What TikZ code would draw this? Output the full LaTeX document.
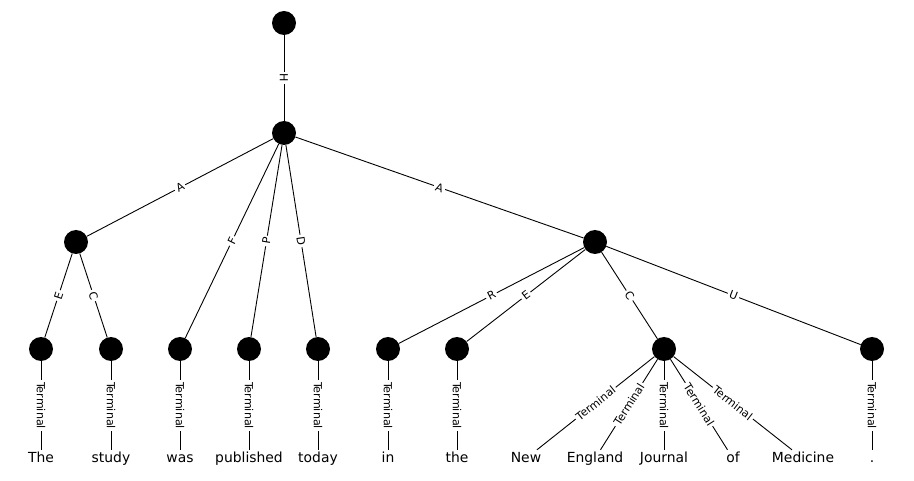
\documentclass[tikz,border=0pt]{standalone}
\usepackage{fontspec}
\setmainfont{DejaVu Sans}
\begin{document}
\begin{tikzpicture}[x=1pt,y=-1pt,
  unit/.style={circle,fill=black,draw=none,minimum size=24pt,inner sep=0pt},
  word/.style={font=\fontsize{13.9}{15}\selectfont,text height=10pt,text depth=3pt,inner sep=2pt,fill=white},
  lab/.style={font=\fontsize{11.1}{12}\selectfont,fill=white,inner sep=2pt,sloped,midway},
  link/.style={draw=black,line width=0.9pt}]
\useasboundingbox (0,0) rectangle (914,481);
% structure nodes
\node[unit] (root) at (284,23) {};
\node[unit] (h) at (284,133) {};
\node[unit] (la) at (76,242) {};
\node[unit] (ra) at (595,242) {};
\node[unit] (n1) at (41,349) {};
\node[unit] (n2) at (111,349) {};
\node[unit] (n3) at (180,349) {};
\node[unit] (n4) at (249,349) {};
\node[unit] (n5) at (318,349) {};
\node[unit] (n6) at (388,349) {};
\node[unit] (n7) at (457,349) {};
\node[unit] (n8) at (664,349) {};
\node[unit] (n9) at (872,349) {};
% terminal words
\node[word] (w1) at (41,458.5) {The};
\node[word] (w2) at (111,458.5) {study};
\node[word] (w3) at (180,458.5) {was};
\node[word] (w4) at (249,458.5) {published};
\node[word] (w5) at (318,458.5) {today};
\node[word] (w6) at (388,458.5) {in};
\node[word] (w7) at (457,458.5) {the};
\node[word] (w8) at (526,458.5) {New};
\node[word] (w9) at (595,458.5) {England};
\node[word] (w10) at (664,458.5) {Journal};
\node[word] (w11) at (733,458.5) {of};
\node[word] (w12) at (803,458.5) {Medicine};
\node[word] (w13) at (872,458.5) {.};
% labelled edges
\path[link] (root) -- node[lab] {H} (h);
\path[link] (h) -- node[lab] {A} (la);
\path[link] (h) -- node[lab] {F} (n3);
\path[link] (h) -- node[lab] {P} (n4);
\path[link] (h) -- node[lab] {D} (n5);
\path[link] (h) -- node[lab] {A} (ra);
\path[link] (la) -- node[lab] {E} (n1);
\path[link] (la) -- node[lab] {C} (n2);
\path[link] (ra) -- node[lab] {R} (n6);
\path[link] (ra) -- node[lab] {E} (n7);
\path[link] (ra) -- node[lab] {C} (n8);
\path[link] (ra) -- node[lab] {U} (n9);
\foreach \a/\b in {n1/w1,n2/w2,n3/w3,n4/w4,n5/w5,n6/w6,n7/w7,n8/w8,n8/w9,n8/w10,n8/w11,n8/w12,n9/w13}
  \path[link] (\a) -- node[lab] {Terminal} (\b);
\end{tikzpicture}
\end{document}
